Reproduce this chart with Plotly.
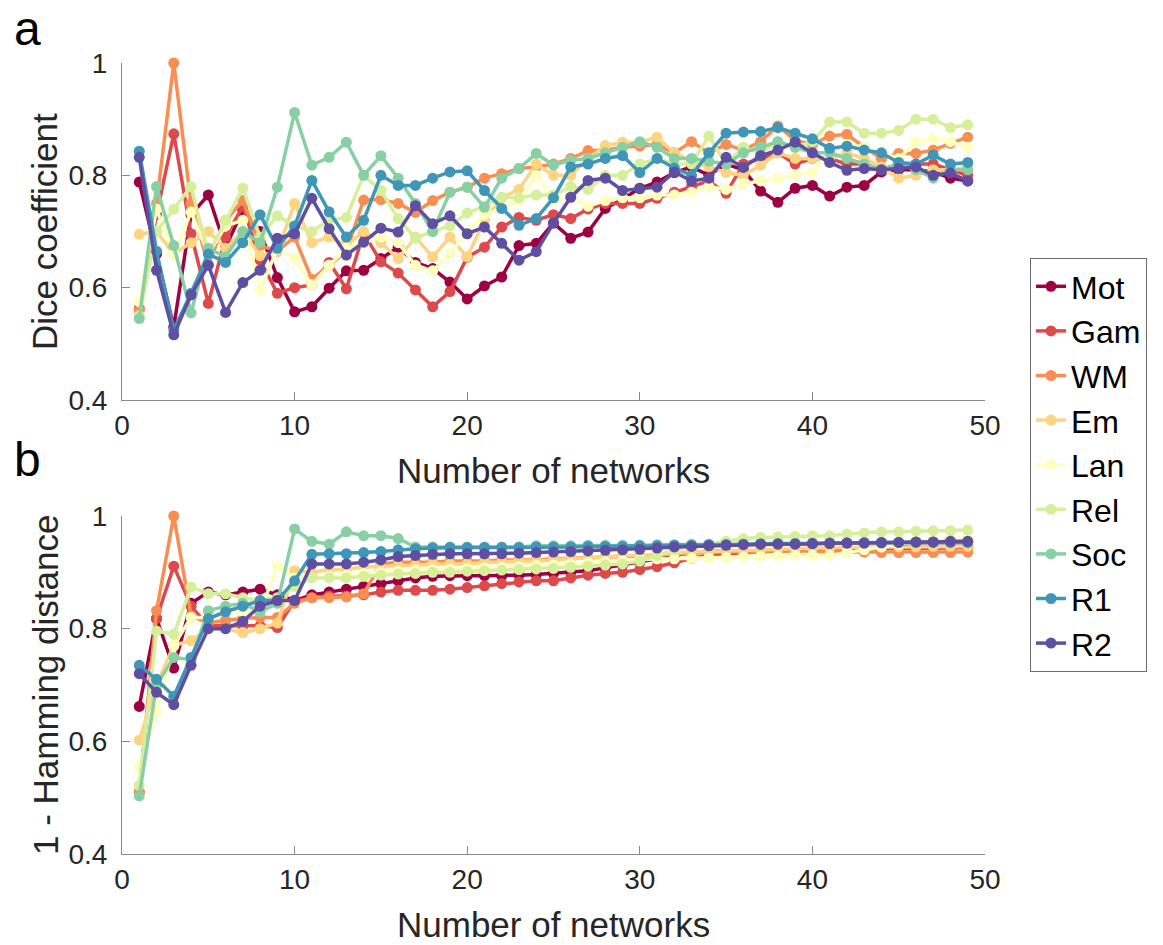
import plotly.graph_objects as go

# Number of networks included (x axis)
n_networks = list(range(1, 50))

series_names = ["Mot", "Gam", "WM", "Em", "Lan", "Rel", "Soc", "R1", "R2"]
series_colors = ["#9e0142", "#dd4a4c", "#f98e52", "#fed481", "#ffffbf",
                 "#d7ef9b", "#89cfa4", "#3f96b7", "#5e4fa2"]

# Panel a: Dice coefficient
dice_mot = [0.788, 0.66, 0.53, 0.73, 0.765, 0.672, 0.738, 0.70, 0.618, 0.557,
            0.566, 0.599, 0.63, 0.631, 0.652, 0.672, 0.645, 0.634, 0.61, 0.58,
            0.603, 0.619, 0.675, 0.679, 0.715, 0.688, 0.699, 0.741, 0.758, 0.777,
            0.788, 0.805, 0.815, 0.80, 0.82, 0.81, 0.772, 0.752, 0.777, 0.782,
            0.763, 0.779, 0.782, 0.806, 0.81, 0.81, 0.806, 0.795, 0.79]
dice_gam = [0.563, 0.73, 0.874, 0.696, 0.572, 0.69, 0.745, 0.649, 0.59, 0.60,
            0.605, 0.645, 0.598, 0.697, 0.646, 0.626, 0.596, 0.566, 0.593, 0.654,
            0.672, 0.708, 0.725, 0.72, 0.73, 0.723, 0.74, 0.75, 0.75, 0.75,
            0.759, 0.77, 0.78, 0.79, 0.768, 0.82, 0.83, 0.84, 0.82, 0.83,
            0.83, 0.82, 0.82, 0.81, 0.82, 0.82, 0.82, 0.81, 0.80]
dice_wm = [0.56, 0.75, 1.0, 0.75, 0.64, 0.72, 0.755, 0.675, 0.665, 0.69,
           0.615, 0.64, 0.665, 0.756, 0.757, 0.75, 0.734, 0.755, 0.77, 0.779,
           0.795, 0.803, 0.812, 0.815, 0.82, 0.83, 0.844, 0.845, 0.85, 0.852,
           0.855, 0.84, 0.86, 0.84, 0.855, 0.845, 0.86, 0.888, 0.862, 0.855,
           0.87, 0.873, 0.85, 0.83, 0.839, 0.839, 0.845, 0.857, 0.868]
dice_em = [0.695, 0.70, 0.66, 0.68, 0.70, 0.67, 0.70, 0.657, 0.665, 0.75,
           0.68, 0.69, 0.675, 0.70, 0.68, 0.652, 0.69, 0.655, 0.69, 0.655,
           0.72, 0.76, 0.775, 0.82, 0.80, 0.80, 0.83, 0.853, 0.859, 0.859,
           0.868, 0.84, 0.825, 0.815, 0.805, 0.80, 0.818, 0.84, 0.83, 0.83,
           0.83, 0.84, 0.83, 0.815, 0.795, 0.80, 0.81, 0.81, 0.815]
dice_lan = [0.575, 0.74, 0.66, 0.735, 0.66, 0.71, 0.72, 0.595, 0.67, 0.652,
            0.605, 0.64, 0.67, 0.68, 0.69, 0.68, 0.64, 0.63, 0.66, 0.70,
            0.73, 0.74, 0.755, 0.80, 0.755, 0.76, 0.745, 0.755, 0.76, 0.76,
            0.765, 0.765, 0.77, 0.78, 0.775, 0.785, 0.79, 0.795, 0.80, 0.805,
            0.84, 0.855, 0.85, 0.84, 0.83, 0.86, 0.865, 0.86, 0.85]
dice_rel = [0.55, 0.70, 0.74, 0.78, 0.66, 0.72, 0.777, 0.69, 0.728, 0.71,
            0.70, 0.72, 0.725, 0.80, 0.773, 0.723, 0.688, 0.70, 0.71, 0.733,
            0.745, 0.761, 0.76, 0.765, 0.765, 0.78, 0.775, 0.80, 0.80, 0.82,
            0.83, 0.82, 0.82, 0.87, 0.82, 0.85, 0.84, 0.86, 0.85, 0.86,
            0.895, 0.895, 0.875, 0.875, 0.88, 0.90, 0.90, 0.885, 0.89]
dice_soc = [0.545, 0.78, 0.675, 0.555, 0.67, 0.655, 0.70, 0.68, 0.779, 0.912,
            0.818, 0.832, 0.859, 0.80, 0.835, 0.795, 0.75, 0.70, 0.77, 0.779,
            0.743, 0.795, 0.812, 0.839, 0.818, 0.827, 0.83, 0.84, 0.85, 0.86,
            0.85, 0.83, 0.83, 0.825, 0.82, 0.84, 0.85, 0.86, 0.85, 0.84,
            0.84, 0.83, 0.82, 0.81, 0.82, 0.81, 0.795, 0.81, 0.81]
dice_r1 = [0.843, 0.665, 0.525, 0.59, 0.66, 0.645, 0.68, 0.73, 0.67, 0.71,
           0.791, 0.735, 0.69, 0.72, 0.80, 0.782, 0.782, 0.795, 0.806, 0.808,
           0.773, 0.741, 0.711, 0.723, 0.76, 0.815, 0.82, 0.83, 0.835, 0.805,
           0.83, 0.813, 0.80, 0.84, 0.875, 0.877, 0.878, 0.885, 0.875, 0.865,
           0.848, 0.852, 0.845, 0.84, 0.823, 0.82, 0.836, 0.82, 0.823]
dice_r2 = [0.832, 0.631, 0.516, 0.587, 0.64, 0.556, 0.609, 0.631, 0.688, 0.696,
           0.759, 0.705, 0.658, 0.681, 0.706, 0.699, 0.746, 0.714, 0.728, 0.696,
           0.708, 0.679, 0.649, 0.664, 0.715, 0.761, 0.791, 0.795, 0.773, 0.776,
           0.779, 0.806, 0.79, 0.795, 0.832, 0.814, 0.835, 0.845, 0.859, 0.84,
           0.823, 0.809, 0.812, 0.81, 0.812, 0.815, 0.80, 0.804, 0.79]

# Panel b: 1 - Hamming distance
ham_mot = [0.662, 0.818, 0.73, 0.845, 0.865, 0.86, 0.865, 0.87, 0.86, 0.85,
           0.86, 0.865, 0.87, 0.875, 0.88, 0.885, 0.89, 0.893, 0.894, 0.894,
           0.894, 0.894, 0.895, 0.896, 0.898, 0.90, 0.903, 0.908, 0.913, 0.918,
           0.924, 0.93, 0.935, 0.937, 0.938, 0.938, 0.938, 0.94, 0.94, 0.94,
           0.942, 0.943, 0.944, 0.945, 0.945, 0.946, 0.946, 0.946, 0.946]
ham_gam = [0.51, 0.818, 0.911, 0.84, 0.805, 0.805, 0.805, 0.805, 0.802, 0.85,
           0.855, 0.858, 0.858, 0.86, 0.865, 0.868, 0.868, 0.868, 0.87, 0.873,
           0.876, 0.88, 0.883, 0.885, 0.885, 0.89, 0.895, 0.898, 0.90, 0.905,
           0.91, 0.917, 0.925, 0.93, 0.933, 0.935, 0.937, 0.938, 0.938, 0.94,
           0.94, 0.941, 0.942, 0.942, 0.942, 0.943, 0.943, 0.943, 0.944]
ham_wm = [0.51, 0.832, 1.0, 0.823, 0.81, 0.815, 0.818, 0.82, 0.82, 0.845,
          0.855, 0.855, 0.856, 0.862, 0.915, 0.918, 0.918, 0.918, 0.92, 0.92,
          0.92, 0.922, 0.922, 0.922, 0.924, 0.925, 0.925, 0.926, 0.927, 0.928,
          0.93, 0.932, 0.934, 0.935, 0.936, 0.937, 0.938, 0.938, 0.938, 0.938,
          0.936, 0.936, 0.936, 0.935, 0.935, 0.935, 0.935, 0.935, 0.936]
ham_em = [0.602, 0.70, 0.77, 0.779, 0.80, 0.80, 0.793, 0.80, 0.81, 0.903,
          0.90, 0.905, 0.905, 0.91, 0.91, 0.912, 0.912, 0.915, 0.915, 0.915,
          0.918, 0.918, 0.92, 0.92, 0.922, 0.925, 0.925, 0.928, 0.93, 0.93,
          0.932, 0.935, 0.936, 0.937, 0.938, 0.94, 0.94, 0.942, 0.942, 0.943,
          0.943, 0.944, 0.944, 0.945, 0.945, 0.945, 0.946, 0.946, 0.946]
ham_lan = [0.554, 0.651, 0.77, 0.82, 0.82, 0.83, 0.83, 0.83, 0.911, 0.89,
           0.89, 0.893, 0.895, 0.898, 0.90, 0.902, 0.904, 0.905, 0.906, 0.907,
           0.908, 0.909, 0.91, 0.912, 0.913, 0.915, 0.917, 0.919, 0.92, 0.922,
           0.924, 0.924, 0.925, 0.925, 0.926, 0.927, 0.928, 0.929, 0.93, 0.93,
           0.93, 0.935, 0.94, 0.945, 0.95, 0.955, 0.958, 0.96, 0.96]
ham_rel = [0.522, 0.796, 0.79, 0.874, 0.862, 0.862, 0.855, 0.85, 0.855, 0.875,
           0.89, 0.89, 0.89, 0.893, 0.895, 0.897, 0.898, 0.90, 0.90, 0.902,
           0.903, 0.904, 0.905, 0.906, 0.907, 0.909, 0.911, 0.913, 0.915, 0.92,
           0.93, 0.94, 0.945, 0.95, 0.955, 0.96, 0.962, 0.963, 0.964, 0.965,
           0.965, 0.968, 0.97, 0.972, 0.972, 0.973, 0.974, 0.974, 0.975]
ham_soc = [0.503, 0.70, 0.749, 0.745, 0.832, 0.84, 0.845, 0.83, 0.845, 0.977,
           0.955, 0.95, 0.972, 0.965, 0.965, 0.96, 0.945, 0.945, 0.945, 0.945,
           0.945, 0.945, 0.945, 0.947, 0.947, 0.947, 0.948, 0.948, 0.948, 0.948,
           0.949, 0.949, 0.95, 0.95, 0.95, 0.95, 0.951, 0.951, 0.951, 0.952,
           0.952, 0.952, 0.953, 0.953, 0.953, 0.954, 0.954, 0.955, 0.955]
ham_r1 = [0.735, 0.71, 0.68, 0.749, 0.818, 0.83, 0.84, 0.85, 0.85, 0.885,
          0.932, 0.933, 0.933, 0.935, 0.937, 0.94, 0.942, 0.943, 0.944, 0.944,
          0.944, 0.944, 0.944, 0.945, 0.945, 0.945, 0.946, 0.946, 0.946, 0.947,
          0.947, 0.948, 0.948, 0.949, 0.949, 0.95, 0.95, 0.951, 0.951, 0.951,
          0.952, 0.952, 0.952, 0.952, 0.953, 0.953, 0.953, 0.953, 0.953]
ham_r2 = [0.72, 0.687, 0.665, 0.735, 0.80, 0.80, 0.813, 0.84, 0.85, 0.85,
          0.915, 0.915, 0.915, 0.918, 0.922, 0.928, 0.93, 0.932, 0.933, 0.933,
          0.933, 0.933, 0.934, 0.935, 0.936, 0.937, 0.938, 0.939, 0.94, 0.941,
          0.943, 0.945, 0.946, 0.947, 0.948, 0.949, 0.95, 0.95, 0.95, 0.951,
          0.951, 0.952, 0.952, 0.953, 0.953, 0.954, 0.954, 0.955, 0.955]

dice_all = [dice_mot, dice_gam, dice_wm, dice_em, dice_lan, dice_rel, dice_soc, dice_r1, dice_r2]
ham_all = [ham_mot, ham_gam, ham_wm, ham_em, ham_lan, ham_rel, ham_soc, ham_r1, ham_r2]

x_ticks = [0, 10, 20, 30, 40, 50]
y_ticks = [0.4, 0.6, 0.8, 1.0]
y_tick_text = ["0.4", "0.6", "0.8", "1"]

W, H = 1163, 945
FONT = "Liberation Sans, Arial, Helvetica, sans-serif"
TEXT = "#262626"
AXIS = "#8a8a8a"

fig = go.Figure()

# Dice traces first (these carry the legend), then the Hamming traces
for name, color, yd in zip(series_names, series_colors, dice_all):
    fig.add_trace(go.Scatter(
        x=n_networks, y=yd, name=name, mode="lines+markers",
        line=dict(color=color, width=3.5),
        marker=dict(color=color, size=11, symbol="circle"),
        cliponaxis=False, xaxis="x", yaxis="y"))
for name, color, yh in zip(series_names, series_colors, ham_all):
    fig.add_trace(go.Scatter(
        x=n_networks, y=yh, name=name, mode="lines+markers", showlegend=False,
        line=dict(color=color, width=3.5),
        marker=dict(color=color, size=11, symbol="circle"),
        cliponaxis=False, xaxis="x2", yaxis="y2"))

xdom = [122 / W, 985 / W]
axis_common = dict(showline=True, linecolor=AXIS, linewidth=1, mirror=False,
                   ticks="inside", ticklen=8, tickcolor=AXIS, tickwidth=1,
                   showgrid=False, zeroline=False, automargin=False,
                   tickfont=dict(family=FONT, size=28, color=TEXT))
y_extra = dict(ticklabelstandoff=8)

fig.update_layout(
    width=W, height=H,
    margin=dict(l=0, r=0, t=0, b=0, autoexpand=False),
    paper_bgcolor="white", plot_bgcolor="white",
    font=dict(family=FONT, color=TEXT),
    xaxis=dict(domain=xdom, range=[0, 50], tickvals=x_ticks, anchor="y", **axis_common),
    yaxis=dict(domain=[1 - 400 / H, 1 - 63 / H], range=[0.4, 1.0], tickvals=y_ticks,
               ticktext=y_tick_text, anchor="x", **axis_common, **y_extra),
    xaxis2=dict(domain=xdom, range=[0, 50], tickvals=x_ticks, anchor="y2", **axis_common),
    yaxis2=dict(domain=[1 - 854 / H, 1 - 516 / H], range=[0.4, 1.0], tickvals=y_ticks,
                ticktext=y_tick_text, anchor="x2", **axis_common, **y_extra),
    legend=dict(x=1030 / W, y=1 - 258 / H, xanchor="left", yanchor="top",
                bordercolor="#6e6e6e", borderwidth=1, bgcolor="white",
                font=dict(family=FONT, size=32, color="black"),
                tracegroupgap=0),
    showlegend=True,
)

annotations = [
    dict(text="a", x=27 / W, y=1 - 28 / H, font=dict(size=48, color="black")),
    dict(text="b", x=27 / W, y=1 - 459 / H, font=dict(size=48, color="black")),
    dict(text="Dice coefficient", x=45 / W, y=1 - 232 / H, textangle=-90,
         font=dict(size=35, color=TEXT)),
    dict(text="1 - Hamming distance", x=45 / W, y=1 - 685 / H, textangle=-90,
         font=dict(size=35, color=TEXT)),
    dict(text="Number of networks", x=553 / W, y=1 - 470 / H, font=dict(size=35, color=TEXT)),
    dict(text="Number of networks", x=553 / W, y=1 - 924 / H, font=dict(size=35, color=TEXT)),
]
for a in annotations:
    a.update(xref="paper", yref="paper", showarrow=False, xanchor="center", yanchor="middle")
    a["font"]["family"] = FONT
fig.update_layout(annotations=annotations)

fig.write_html("out.html")
